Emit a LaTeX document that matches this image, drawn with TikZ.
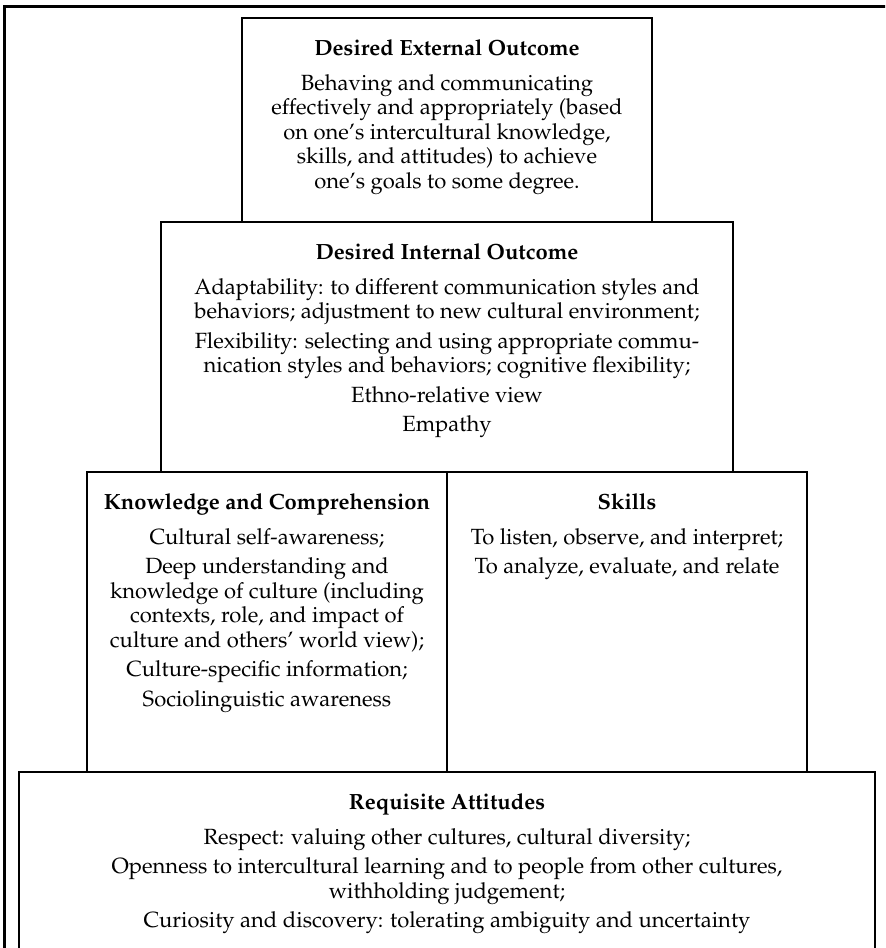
\documentclass[tikz,border=0pt]{standalone}
\usepackage[T1]{fontenc}
\usepackage{mathpazo}
\usetikzlibrary{positioning}
\begin{document}
\begin{tikzpicture}[x=0.5pt,y=-0.5pt,
box/.style={draw,line width=0.6pt},
txt/.style={anchor=north,align=center,inner sep=0,font=\fontsize{11}{12.25}\selectfont}]
\useasboundingbox (0,0) rectangle (885,948);
\clip (0,0) rectangle (885,948);
\draw[line width=1.5pt] (4,960) -- (4,6) -- (900,6);
\draw[box] (242,18) rectangle (652,222);
\draw[box] (161,222) rectangle (733,472);
\draw[box] (87,472) rectangle (447,772);
\draw[box] (447,472) rectangle (807,772);
\draw[box] (19,772) rectangle (875,990);
\node[txt] (ext) at (447,39) {\textbf{Desired External Outcome}\\[5.25pt]
Behaving and communicating\\ effectively and appropriately (based\\
on one's intercultural knowledge,\\ skills, and attitudes) to achieve\\
one's goals to some degree.};
\node[txt] (int) at (447,243) {\textbf{Desired Internal Outcome}\\[5.25pt]
Adaptability: to different communication styles and\\
behaviors; adjustment to new cultural environment;\\[2.5pt]
Flexibility: selecting and using appropriate commu-\\
nication styles and behaviors; cognitive flexibility;\\[2.5pt]
Ethno-relative view\\[2.5pt] Empathy};
\node[txt] (know) at (267,493) {\textbf{Knowledge and Comprehension}\\[5.25pt]
Cultural self-awareness;\\[2.5pt] Deep understanding and\\
knowledge of culture (including\\ contexts, role, and impact of\\
culture and others' world view);\\[2.5pt]
Culture-specific information;\\[2.5pt] Sociolinguistic awareness};
\node[txt] (skill) at (627,493) {\textbf{Skills}\\[5.25pt]
To listen, observe, and interpret;\\[2.5pt] To analyze, evaluate, and relate};
\node[txt] (att) at (447,793) {\textbf{Requisite Attitudes}\\[5.25pt]
Respect: valuing other cultures, cultural diversity;\\[2.5pt]
Openness to intercultural learning and to people from other cultures,\\
withholding judgement;\\[2.5pt]
Curiosity and discovery: tolerating ambiguity and uncertainty};
\end{tikzpicture}
\end{document}
